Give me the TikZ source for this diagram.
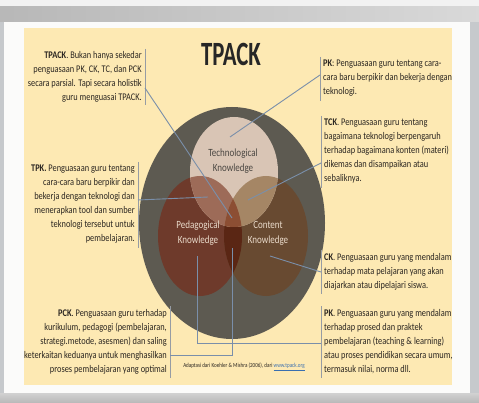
\documentclass[tikz,border=0pt]{standalone}
\usepackage{fontspec}
\setmainfont{Carlito}[FakeStretch=0.82]
\newfontfamily\titlefont{Carlito}[FakeStretch=0.67]
\definecolor{bgyellow}{HTML}{FDE9B3}
\definecolor{bigc}{HTML}{5D5A51}
\definecolor{techc}{HTML}{D9C5B5}
\definecolor{pedc}{HTML}{6E3A2B}
\definecolor{conc}{HTML}{684A31}
\definecolor{pcc}{HTML}{5A2614}
\definecolor{tpc}{HTML}{9D6B58}
\definecolor{tcc}{HTML}{A58665}
\definecolor{tpcc}{HTML}{8C4E33}
\definecolor{linec}{HTML}{7A8FAA}
\definecolor{barc}{HTML}{969CA4}
\definecolor{txt}{HTML}{2B2621}
\definecolor{lighttxt}{HTML}{EADBCB}
\definecolor{urlblue}{HTML}{3A6FB0}
\definecolor{photogrey}{HTML}{C6C9CC}
\definecolor{slidewhite}{HTML}{FBFBFA}
\begin{document}
\begin{tikzpicture}[x=1pt,y=-1pt,
  body/.style={font=\fontsize{10.2}{14}\selectfont, text=txt, inner sep=0pt},
  lbody/.style={body, align=left, anchor=north west},
  rbody/.style={body, align=right, anchor=north east},
  bar/.style={draw=barc, line width=0.8pt},
  conn/.style={draw=linec, line width=0.9pt},
  clabel/.style={font=\fontsize{11}{15}\selectfont, align=center, inner sep=0pt}]
\useasboundingbox (0,0) rectangle (479,403);
% photo backdrop
\fill[photogrey] (0,0) rectangle (479,403);
\fill[white!95!black] (0,0) rectangle (479,7);
\shade[left color=black!28, right color=black!15] (0,7) rectangle (479,22);
\shade[top color=black!18, bottom color=black!28] (0,393) rectangle (479,403);
\fill[slidewhite] (4,22) rectangle (470,393);
\fill[bgyellow] (24,28) rectangle (452,385);
% circles
\coordinate (bigC) at (232,223);
\coordinate (techC) at (234,172);
\coordinate (pedC) at (200,236);
\coordinate (conC) at (266,236);
\fill[bigc] (bigC) ellipse [x radius=93pt, y radius=116pt];
\fill[pedc] (pedC) ellipse [x radius=42pt, y radius=60pt];
\fill[conc] (conC) ellipse [x radius=42pt, y radius=60pt];
\begin{scope}
  \clip (pedC) ellipse [x radius=42pt, y radius=60pt];
  \fill[pcc] (conC) ellipse [x radius=42pt, y radius=60pt];
\end{scope}
\fill[techc] (techC) ellipse [x radius=44pt, y radius=55pt];
\begin{scope}
  \clip (techC) ellipse [x radius=44pt, y radius=55pt];
  \fill[tpc] (pedC) ellipse [x radius=42pt, y radius=60pt];
  \fill[tcc] (conC) ellipse [x radius=42pt, y radius=60pt];
  \clip (pedC) ellipse [x radius=42pt, y radius=60pt];
  \fill[tpcc] (conC) ellipse [x radius=42pt, y radius=60pt];
\end{scope}
% circle labels
\node[clabel, text=txt!85] (tlab) at (233,161) {Technological\\Knowledge};
\node[clabel, text=lighttxt] (plab) at (198,233) {Pedagogical\\Knowledge};
\node[clabel, text=lighttxt] (clab) at (268,233) {Content\\Knowledge};
% title
\node[inner sep=0pt, font=\titlefont\fontsize{34}{34}\selectfont\bfseries, text=black!85] (title) at (231,54) {TPACK};
% text blocks
\node[rbody] (tpack) at (142,51) {\textbf{TPACK}. Bukan hanya sekedar\\penguasaan PK, CK, TC, dan PCK\\secara parsial. Tapi secara holistik\\guru menguasai TPACK.};
\node[lbody] (pktop) at (323,60) {\textbf{PK}: Penguasaan guru tentang cara-\\cara baru berpikir dan bekerja dengan\\teknologi.};
\node[lbody] (tck) at (324,119) {\textbf{TCK}. Penguasaan guru tentang\\bagaimana teknologi berpengaruh\\terhadap bagaimana konten (materi)\\dikemas dan disampaikan atau\\sebaliknya.};
\node[rbody] (tpk) at (135,165) {\textbf{TPK.} Penguasaan guru tentang\\cara-cara baru berpikir dan\\bekerja dengan teknologi dan\\menerapkan tool dan sumber\\teknologi tersebut untuk\\pembelajaran.};
\node[lbody] (ck) at (324,253) {\textbf{CK}. Penguasaan guru yang mendalam\\terhadap mata pelajaran yang akan\\diajarkan atau dipelajari siswa.};
\node[lbody] (pkbot) at (324,309) {\textbf{PK}. Penguasaan guru yang mendalam\\terhadap prosed dan praktek\\pembelajaran (teaching \& learning)\\atau proses pendidikan secara umum,\\termasuk nilai, norma dll.};
\node[rbody] (pck) at (167,309) {\textbf{PCK}. Penguasaan guru terhadap\\kurikulum, pedagogi (pembelajaran,\\strategi.metode, asesmen) dan saling\\keterkaitan keduanya untuk menghasilkan\\proses pembelajaran yang optimal};
\node[inner sep=0pt, font=\fontsize{6.2}{7}\selectfont, text=txt] (src) at (244,367) {Adaptasi dari Koehler \& Mishra (2006), dari \textcolor{urlblue}{\underline{www.tpack.org}}};
% bars beside the texts
\draw[bar] ([shift={(3,-2)}]tpack.north east) coordinate (tpackT) -- ([shift={(3,3)}]tpack.south east) coordinate (tpackB);
\draw[bar] ([shift={(-3,-3)}]pktop.north west) coordinate (pktopT) -- ([shift={(-3,4)}]pktop.south west) coordinate (pktopB);
\draw[bar] ([shift={(-3,-3)}]tck.north west) coordinate (tckT) -- ([shift={(-3,4)}]tck.south west) coordinate (tckB);
\draw[bar] ([shift={(3,-3)}]tpk.north east) coordinate (tpkT) -- ([shift={(3,4)}]tpk.south east) coordinate (tpkB);
\draw[bar] ([shift={(-3,-3)}]ck.north west) coordinate (ckT) -- ([shift={(-3,4)}]ck.south west) coordinate (ckB);
\draw[bar] ([shift={(-3,-3)}]pkbot.north west) coordinate (pkbotT) -- ([shift={(-3,4)}]pkbot.south west) coordinate (pkbotB);
\draw[bar] ([shift={(3,-3)}]pck.north east) coordinate (pckT) -- ([shift={(3,4)}]pck.south east) coordinate (pckB);
% connector ends
\coordinate (tpackS) at (145,88);   \coordinate (tpackE) at (232,218);
\coordinate (pktopS) at (320,75);   \coordinate (pktopE) at (230,137);
\coordinate (tckS) at (321,163);    \coordinate (tckE) at (248,200);
\coordinate (tpkS) at (138,200);    \coordinate (tpkE) at (208,197);
\coordinate (ckS) at (321,272);     \coordinate (ckE) at (270,256);
\coordinate (pckE) at (232,248);    \coordinate (pckS) at (170,355);
\coordinate (pkbotE) at (197,256);  \coordinate (pkbotS) at (321,343);
\draw[conn] (tpackS) -- (tpackE);
\draw[conn] (pktopS) -- (pktopE);
\draw[conn] (tckS) -- (tckE);
\draw[conn] (tpkS) -- (tpkE);
\draw[conn] (ckS) -- (ckE);
\draw[conn] (pckE) |- (pckS);
\draw[conn] (pkbotE) |- (pkbotS);
\end{tikzpicture}
\end{document}
